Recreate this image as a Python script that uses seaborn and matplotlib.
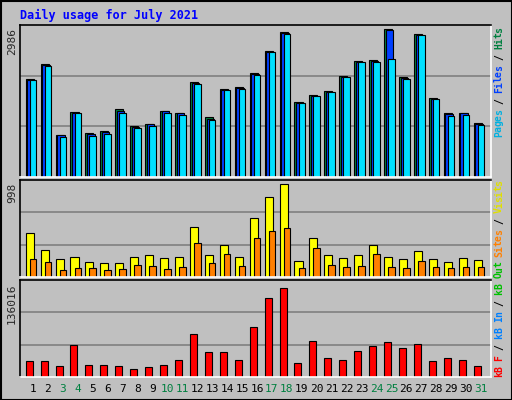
import numpy as np
import matplotlib
matplotlib.use("Agg")
import matplotlib.pyplot as plt
import seaborn as sns

days = list(range(1, 32))
weekend = [3, 4, 10, 11, 17, 18, 24, 25, 31]
hits = [1973, 2277, 858, 1324, 899, 939, 1371, 1040, 1081, 1344, 1304, 1912, 1203, 1770, 1811, 2094,
        2540, 2925, 1507, 1648, 1736, 2034, 2338, 2358, 2986, 2013, 2892, 1588, 1284, 1304, 1101]
files = [1960, 2260, 845, 1300, 860, 900, 1330, 1020, 1065, 1325, 1285, 1895, 1180, 1760, 1795, 2075,
         2530, 2905, 1495, 1638, 1722, 2022, 2328, 2340, 2966, 1995, 2880, 1578, 1265, 1285, 1080]
pages = [1953, 2236, 817, 1284, 838, 878, 1304, 1000, 1040, 1304, 1263, 1871, 1162, 1750, 1770, 2054,
         2520, 2885, 1486, 1628, 1709, 2013, 2317, 2317, 2378, 1973, 2865, 1567, 1243, 1263, 1061]
visits = [468, 285, 198, 220, 166, 155, 155, 220, 231, 209, 220, 533, 241, 339, 220, 631,
          858, 998, 177, 414, 231, 209, 241, 339, 220, 198, 274, 198, 166, 209, 187]
sites = [198, 166, 79, 101, 101, 79, 90, 133, 123, 90, 112, 360, 155, 252, 123, 414,
         490, 522, 101, 306, 133, 112, 123, 252, 112, 101, 177, 112, 101, 112, 112]
kbytes = [24324, 24324, 16878, 48151, 18367, 18367, 16878, 12410, 15388, 18367, 25813, 66021, 37726,
          37726, 25813, 76446, 119632, 136016, 21345, 54108, 28791, 25813, 39216, 46662, 52618, 43683,
          49640, 24324, 28791, 25813, 16878]

sns.set_style("white")
plt.rcParams['font.family'] = ['DejaVu Sans Mono', 'DejaVu Sans']
W, H = 512, 400
fig = plt.figure(figsize=(W / 100, H / 100), dpi=100, facecolor="#c0c0c0")
fig.patches.append(plt.Rectangle((0.5 / W, 0.5 / H), 1 - 1 / W, 1 - 1 / H, transform=fig.transFigure,
                                 fill=False, edgecolor="black", lw=1.5))

x = np.array(days)
gray = "#c0c0c0"


def panel(top, bottom, ymax, vmax):
    ax = fig.add_axes([20 / W, 1 - bottom / H, 471 / W, (bottom - top) / H])
    ax.set_facecolor(gray)
    ax.set_xlim(0.13, 31.67)
    ax.set_ylim(0, ymax)
    for g in (ymax / 3, 2 * ymax / 3):
        ax.axhline(g, color="#808080", lw=1.2, zorder=0)
    ax.set_xticks([])
    ax.set_yticks([])
    for s in ("top", "left"):
        ax.spines[s].set_color("black")
    for s in ("bottom", "right"):
        ax.spines[s].set_color("white")
    for s in ax.spines.values():
        s.set_linewidth(1.2)
    fig.text(12 / W, 1 - (top + 3) / H, str(vmax), rotation=90, ha="center", va="top", fontsize=8)
    return ax


def side_label(bottom, parts):
    # reads bottom to top, one character at a time
    step = 5.5
    y = bottom - step / 2
    for txt, col in parts:
        for ch in txt:
            if ch != " ":
                fig.text(499 / W, 1 - y / H, ch, rotation=90, ha="center", va="center",
                         color=col, fontsize=7, fontweight="bold")
            y -= step


ek = dict(edgecolor="black", linewidth=0.8)
ax1 = panel(25, 177, 3073, 2986)
ax1.bar(x - 0.22, hits, width=0.54, color="#008040", **ek)
ax1.bar(x - 0.13, files, width=0.5, color="#0040ff", **ek)
ax1.bar(x, pages, width=0.44, color="#00e0ff", **ek)
side_label(137, [("Pages", "#00b0e0"), (" / ", "black"), ("Files", "#0040ff"), (" / ", "black"), ("Hits", "#008040")])

ax2 = panel(180, 277, 1041, 998)
ax2.bar(x - 0.22, visits, width=0.54, color="#ffff00", **ek)
ax2.bar(x, sites, width=0.44, color="#ff8000", **ek)
side_label(257, [("Sites", "#ff8000"), (" / ", "black"), ("Visits", "#e0e000")])

ax3 = panel(280, 377, 147460, 136016)
ax3.bar(x - 0.255, kbytes, width=0.47, color="#ff0000", **ek)
side_label(377, [("kB F", "#ff0000"), (" / ", "black"), ("kB In", "#0080ff"), (" / ", "black"), ("kB Out", "#00c000")])

for d in days:
    xf = (20 + (d - 0.13) / 31.54 * 471) / W
    fig.text(xf, 1 - 389 / H, str(d), ha="center", va="center", fontsize=8,
             color="#008040" if d in weekend else "black")

fig.text(20 / W, 1 - 15 / H, "Daily usage for July 2021", color="#0000ff", fontsize=8.5,
         fontweight="bold", va="center", ha="left")
fig.savefig("out.png", dpi=100, facecolor=fig.get_facecolor())
